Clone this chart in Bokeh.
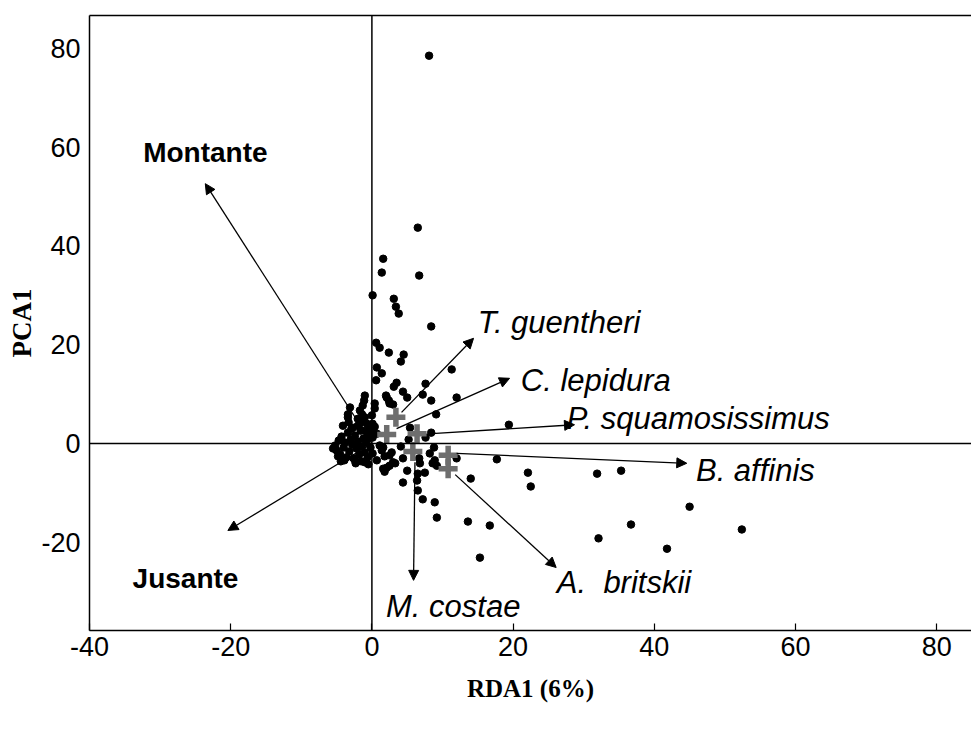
from bokeh.plotting import figure
from bokeh.models import Arrow, NormalHead, Span, LinearAxis, FixedTicker, ColumnDataSource
from bokeh.core.properties import value
from bokeh.embed import file_html
from bokeh.resources import INLINE

# ---- data ----
site_x = [8.1, 6.5, 1.6, 1.4, 6.7, 0.1, 3.1, 3.4, 3.8, 8.4, 0.6, 1.1, 2.4, 4.5, 4.1, 0.7, 1.4,
          11.3, 0.6, 3.5, 3.1, 7.6, 4.4, 5.0, 2.0, 2.4, 3.0, 0.4, 7.2, 8.4, 12.0, 9.1, 0.4, 19.4,
          8.4, 5.4, 5.2, 7.6, 0.1, 1.6, 4.1, 2.8, 1.8, 4.4, 8.8, 8.2, 8.9, 8.6, 9.2, 6.7, 6.8,
          3.3, 2.5, 1.6, 1.8, 5.0, 12.0, 7.5, 6.5, 6.4, 4.4, 14.0, 6.5, 7.2, 8.9, 9.2, 13.6,
          16.7, 15.3, 17.7, 22.1, 22.5, 31.9, 35.3, 36.7, 32.1, 45.0, 52.4, 41.8,
          -1.0, -1.1, -1.3, -1.7, -3.1, -3.4, -3.4, -4.1, -2.7, -2.0, -1.4, -1.0, -1.3, -1.7,
          -0.7, -1.0, -0.6, 0.0, 0.1, 0.0, 0.7, 0.4, 2.1, 2.5, 1.1, 1.4, 2.5, 3.0, 2.1, 0.1,
          0.7, -2.4, -1.0,
          -5.2, -5.0, -4.7, -4.5, -4.3, -4.0, -3.8, -3.6, -3.4, -3.2, -3.0, -2.8, -2.6, -2.4,
          -2.2, -2.0, -1.8, -1.6, -1.4, -1.2, -1.0, -0.8, -0.6, -0.4, -0.2, -2.9, -3.9, -4.8,
          -5.5, -2.3, -1.5, -0.5, -3.3, -0.3, -2.0, -4.4]
site_y = [78.5, 43.7, 37.4, 34.6, 34.0, 30.0, 29.3, 27.7, 26.3, 23.7, 20.4, 19.4, 18.4, 18.0,
          16.6, 15.4, 14.2, 15.0, 12.8, 12.3, 11.5, 12.1, 10.5, 9.3, 9.7, 8.7, 7.9, 7.1, 9.9,
          8.7, 9.3, 5.9, 3.4, 3.8, 2.2, 3.2, 0.8, 1.2, 1.2, -0.8, -0.6, -1.8, -2.6, -3.0, -0.8,
          -2.0, -3.4, -4.0, -4.5, -3.0, -4.0, -4.0, -4.5, -5.1, -5.7, -5.5, -3.0, -5.9, -6.1,
          -7.5, -7.9, -7.1, -9.5, -11.3, -11.9, -15.0, -15.8, -16.6, -23.1, -3.2, -5.9, -8.7,
          -6.1, -5.5, -16.4, -19.2, -12.8, -17.4, -21.3,
          9.7, 8.7, 7.7, 6.7, 7.3, 5.9, 5.3, 3.6, 3.2, 3.6, 5.9, 5.3, 4.7, 4.0, 4.0, 2.6, 2.0,
          5.7, 4.0, 2.6, 2.0, 8.1, 9.3, 8.1, -0.4, -1.4, -2.4, -3.8, -4.9, -2.0, -3.4, -3.4,
          -3.8,
          -0.4, -1.4, 0.6, -2.2, 1.4, -0.8, 0.2, -2.8, 2.2, -1.6, 0.8, -0.2, -3.0, 1.6, -1.0,
          0.4, -2.2, 2.6, -0.6, 1.0, -1.8, 0.2, -2.8, 1.2, -0.8, 3.0, -3.4, -2.6, -1.0, -4.0,
          -3.6, -4.2, 4.3, 3.4, 5.0, -3.6]

cent_x = [3.4, 2.1, 6.4, 5.8, 10.8, 10.8]
cent_y = [5.3, 1.8, 2.0, -1.6, -2.4, -5.1]

species = ["T. guentheri", "C. lepidura", "P. squamosissimus", "B. affinis",
           "A. \u00a0britskii", "M. costae"]
sp_x0 = [4.2, 3.5, 8.5, 12.0, 11.8, 6.1]
sp_y0 = [6.3, 3.0, 2.0, -2.0, -6.3, -3.8]
sp_x1 = [14.4, 19.5, 28.7, 44.6, 26.1, 5.9]
sp_y1 = [21.3, 13.2, 3.8, -4.0, -25.1, -27.7]
sp_lx = [15.0, 21.1, 27.6, 45.9, 26.2, 2.0]
sp_ly = [24.5, 12.8, 5.1, -5.5, -28.1, -33.0]

env = ["Montante", "Jusante"]
env_x1 = [-23.6, -20.4]
env_y1 = [52.6, -17.6]
env_lx = [-32.4, -33.9]
env_ly = [58.9, -27.3]

x_ticks = [-40, -20, 0, 20, 40, 60, 80]
y_ticks = [-40, -20, 0, 20, 40, 60, 80]
tick_text = {-40: "-40", -20: "-20"}

# ---- figure ----
p = figure(width=971, height=729, x_range=(-40, 84.93), y_range=(-37.85, 86.64),
           output_backend="svg", toolbar_location=None,
           min_border_left=89, min_border_right=0, min_border_top=15, min_border_bottom=99)
p.outline_line_color = None
p.xgrid.visible = False
p.ygrid.visible = False
p.background_fill_color = "white"
p.border_fill_color = "white"

tick_font = "Liberation Sans"

p.xaxis.ticker = FixedTicker(ticks=x_ticks)
p.xaxis.major_label_overrides = tick_text
p.xaxis.major_tick_in = 7
p.xaxis.major_tick_out = 0
p.xaxis.minor_tick_line_color = None
p.xaxis.axis_line_width = 1.5
p.xaxis.major_tick_line_width = 1.2
p.xaxis.major_label_text_font = tick_font
p.xaxis.major_label_text_font_size = "27px"
p.xaxis.major_label_text_color = "black"
p.xaxis.major_label_standoff = 6
p.xaxis.axis_label = "RDA1 (6%)"
p.xaxis.axis_label_text_font = "Liberation Serif"
p.xaxis.axis_label_text_font_style = "bold"
p.xaxis.axis_label_text_font_size = "25px"
p.xaxis.axis_label_text_color = "black"
p.xaxis.axis_label_standoff = 16

p.yaxis.ticker = FixedTicker(ticks=y_ticks)
p.yaxis.major_label_overrides = tick_text
p.yaxis.major_tick_in = 0
p.yaxis.major_tick_out = 0
p.yaxis.minor_tick_line_color = None
p.yaxis.axis_line_width = 1.5
p.yaxis.major_label_text_font = tick_font
p.yaxis.major_label_text_font_size = "27px"
p.yaxis.major_label_text_color = "black"
p.yaxis.major_label_standoff = 9
p.yaxis.axis_label = "PCA1"
p.yaxis.axis_label_text_font = "Liberation Serif"
p.yaxis.axis_label_text_font_style = "bold"
p.yaxis.axis_label_text_font_size = "27px"
p.yaxis.axis_label_text_color = "black"
p.yaxis.axis_label_standoff = 1

top = LinearAxis(ticker=FixedTicker(ticks=[]), major_label_text_font_size="0px",
                 major_tick_in=0, major_tick_out=0, minor_tick_in=0, minor_tick_out=0,
                 axis_line_width=1.5)
p.add_layout(top, "above")

p.add_layout(Span(location=0, dimension="height", line_color="black", line_width=1.5))
p.add_layout(Span(location=0, dimension="width", line_color="black", line_width=1.5))

# sites
p.scatter(site_x, site_y, size=7.5, color="black")

# environmental arrows
env_src = ColumnDataSource(dict(x0=[0, 0], y0=[0, 0], x1=env_x1, y1=env_y1))
p.add_layout(Arrow(end=NormalHead(size=10, fill_color="black", line_color="black"),
                   x_start="x0", y_start="y0", x_end="x1", y_end="y1",
                   source=env_src, line_width=1.3, line_color="black"))

# species arrows
sp_src = ColumnDataSource(dict(x0=sp_x0, y0=sp_y0, x1=sp_x1, y1=sp_y1))
p.add_layout(Arrow(end=NormalHead(size=10, fill_color="black", line_color="black"),
                   x_start="x0", y_start="y0", x_end="x1", y_end="y1",
                   source=sp_src, line_width=1.3, line_color="black"))

# species centroids
p.scatter(cent_x, cent_y, marker="cross", size=19, line_width=5.5, line_color="#6e6e6e")

# labels
p.text(x=sp_lx, y=sp_ly, text=species, text_font=value("Liberation Sans"),
       text_font_style="italic", text_font_size="31px", text_baseline="middle",
       text_align="left", text_color="black")
p.text(x=env_lx, y=env_ly, text=env, text_font=value("Liberation Sans"),
       text_font_style="bold", text_font_size="28px", text_baseline="middle",
       text_align="left", text_color="black")

open("out.html", "w").write(file_html(p, INLINE))
